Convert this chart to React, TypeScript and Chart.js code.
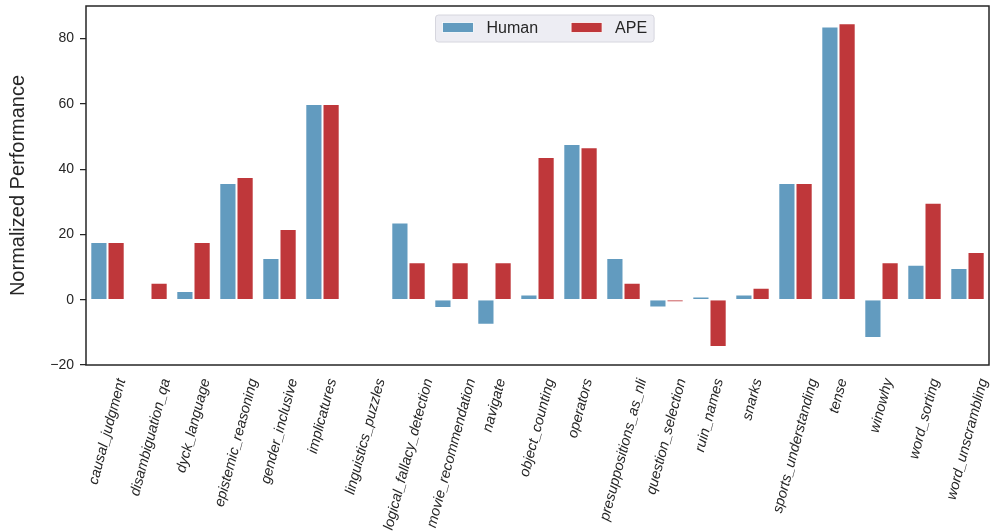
import { useEffect, useRef } from 'react';
import { Chart, registerables } from 'chart.js';

Chart.register(...registerables);

const categories = [
  'causal_judgment', 'disambiguation_qa', 'dyck_language', 'epistemic_reasoning',
  'gender_inclusive', 'implicatures', 'linguistics_puzzles', 'logical_fallacy_detection',
  'movie_recommendation', 'navigate', 'object_counting', 'operators',
  'presuppositions_as_nli', 'question_selection', 'ruin_names', 'snarks',
  'sports_understanding', 'tense', 'winowhy', 'word_sorting', 'word_unscrambling',
];
const humanValues = [17.7, 0, 2.7, 35.8, 12.8, 60, 0, 23.7, -2.5, -7.7, 1.6, 47.7, 12.8, -2.4, 1.0, 1.6, 35.8, 83.7, -11.7, 10.7, 9.7];
const apeValues = [17.7, 5.2, 17.7, 37.6, 21.7, 60, 0, 11.5, 11.5, 11.5, 43.7, 46.7, 5.2, -0.7, -14.5, 3.7, 35.8, 84.7, 11.5, 29.7, 14.6];
const seriesNames = ['Human', 'APE'];
const yTicks = [-20, 0, 20, 40, 60, 80];

const FONT = '"Liberation Sans", Arial, Helvetica, sans-serif';
const TEXT = '#262626';
const BLUE = '#629bbf';
const RED = '#bf373a';

const framePlugin = {
  id: 'frame',
  afterDraw(chart: any) {
    const { ctx, chartArea: a } = chart;
    ctx.save();
    ctx.strokeStyle = TEXT;
    ctx.lineWidth = 1.5;
    ctx.strokeRect(a.left, a.top, a.right - a.left, a.bottom - a.top);
    ctx.restore();
  },
};

const xLabelPlugin = {
  id: 'xlabels',
  afterDraw(chart: any) {
    const { ctx, chartArea: a } = chart;
    const xs = chart.scales.x;
    const th = (75 * Math.PI) / 180;
    const fs = 14.4;
    ctx.save();
    ctx.font = `italic ${fs}px ${FONT}`;
    ctx.fillStyle = TEXT;
    ctx.textAlign = 'center';
    ctx.textBaseline = 'middle';
    categories.forEach((c, i) => {
      const x = xs.getPixelForTick(i);
      const w = ctx.measureText(c).width;
      const bh = w * Math.sin(th) + fs * 1.1 * Math.cos(th);
      const y = a.bottom + 12 + bh / 2;
      ctx.save();
      ctx.translate(x, y);
      ctx.rotate(-th);
      ctx.fillText(c, 0, 0);
      ctx.restore();
    });
    ctx.restore();
  },
};

const legendPlugin = {
  id: 'insideLegend',
  afterDraw(chart: any) {
    const { ctx, chartArea: a } = chart;
    const cx = (a.left + a.right) / 2;
    const colors = [BLUE, RED];
    ctx.save();
    ctx.font = `16px ${FONT}`;
    const padL = 7, swW = 31, swH = 10, gap = 13, itemGap = 33, padR = 7;
    const widths = seriesNames.map((n) => ctx.measureText(n).width);
    const boxW = padL + swW + gap + widths[0] + itemGap + swW + gap + widths[1] + padR;
    const left = cx - 102;
    const top = a.top + 9;
    const boxH = 27;
    ctx.beginPath();
    ctx.roundRect(left, top, boxW, boxH, 3);
    ctx.fillStyle = '#ededf3';
    ctx.fill();
    ctx.strokeStyle = '#d6d6de';
    ctx.lineWidth = 1;
    ctx.stroke();
    let x = left + padL;
    const midY = top + boxH / 2;
    seriesNames.forEach((n, i) => {
      ctx.fillStyle = colors[i];
      ctx.fillRect(x, midY - swH / 2 - 1, swW, swH);
      ctx.strokeStyle = '#ffffff';
      ctx.lineWidth = 0.8;
      ctx.strokeRect(x, midY - swH / 2 - 1, swW, swH);
      x += swW + gap;
      ctx.fillStyle = TEXT;
      ctx.textAlign = 'left';
      ctx.textBaseline = 'middle';
      ctx.fillText(n, x, midY);
      x += widths[i] + itemGap;
    });
    ctx.restore();
  },
};

export default function App() {
  const ref = useRef<HTMLCanvasElement>(null);
  useEffect(() => {
    const chart = new Chart(ref.current as HTMLCanvasElement, {
      type: 'bar',
      data: {
        labels: categories,
        datasets: [
          { label: seriesNames[0], data: humanValues, backgroundColor: BLUE, borderColor: 'rgba(255,255,255,0.8)', borderWidth: 1 },
          { label: seriesNames[1], data: apeValues, backgroundColor: RED, borderColor: 'rgba(255,255,255,0.8)', borderWidth: 1 },
        ],
      },
      options: {
        responsive: false,
        animation: false,
        layout: { padding: { top: 6, right: 1, left: 0, bottom: 0 } },
        datasets: { bar: { categoryPercentage: 0.8, barPercentage: 1 } },
        plugins: { legend: { display: false }, tooltip: { enabled: false } },
        scales: {
          x: {
            grid: { display: false },
            border: { display: false },
            ticks: { display: false },
            afterFit: (s: any) => { s.height = 166; },
          },
          y: {
            min: -20,
            max: 90,
            afterBuildTicks: (s: any) => { s.ticks = yTicks.map((v) => ({ value: v })); },
            ticks: {
              color: TEXT,
              font: { family: FONT, size: 14 },
              padding: 6,
              callback: (v: any) => (v < 0 ? '\u2212' + Math.abs(v) : String(v)),
            },
            grid: { drawOnChartArea: false, drawTicks: true, tickLength: 6, color: TEXT, lineWidth: 1.25 },
            border: { display: false },
            title: {
              display: true,
              text: 'Normalized Performance',
              color: TEXT,
              font: { family: FONT, size: 20 },
              padding: { top: 6, bottom: 0 },
            },
            afterFit: (s: any) => { s.width = 86; s.paddingTop = 0; s.paddingBottom = 0; },
          },
        },
      },
      plugins: [framePlugin, xLabelPlugin, legendPlugin],
    } as any);
    return () => chart.destroy();
  }, []);
  return (
    <canvas
      ref={ref}
      width={990}
      height={531}
      style={{ position: 'absolute', left: 0, top: 0, display: 'block' }}
    />
  );
}
